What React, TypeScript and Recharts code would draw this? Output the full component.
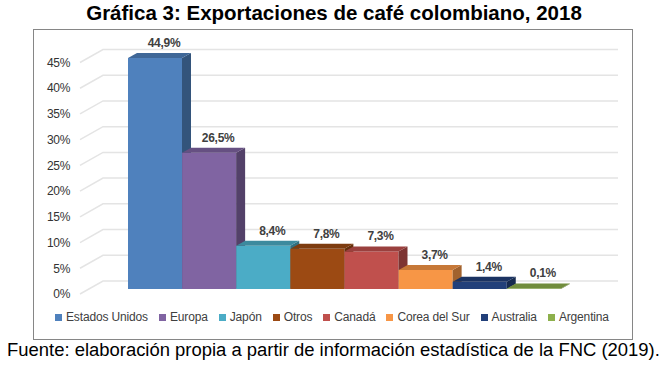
import React from 'react';
import {
  BarChart,
  Bar,
  XAxis,
  YAxis,
  CartesianGrid,
  Legend,
  LabelList,
  Cell,
} from 'recharts';

const countries = [
  'Estados Unidos',
  'Europa',
  'Japón',
  'Otros',
  'Canadá',
  'Corea del Sur',
  'Australia',
  'Argentina',
];
const shares = [44.9, 26.5, 8.4, 7.8, 7.3, 3.7, 1.4, 0.1];
const yTicks = [0, 5, 10, 15, 20, 25, 30, 35, 40, 45];

const colors = [
  '#4F81BD',
  '#8064A2',
  '#4BACC6',
  '#9C4A13',
  '#C0504D',
  '#F79646',
  '#22407A',
  '#8DB04C',
];

const data = countries.map((name, i) => ({ name, value: shares[i], color: colors[i] }));

const FONT = "'Liberation Sans Narrow', 'Arial Narrow', 'Liberation Sans', Arial, sans-serif";
const DEPTH_X = 9;
const DEPTH_Y = 5;

function shade(hex: string, f: number) {
  const n = parseInt(hex.slice(1), 16);
  const r = Math.round(((n >> 16) & 255) * f);
  const g = Math.round(((n >> 8) & 255) * f);
  const b = Math.round((n & 255) * f);
  return `rgb(${r},${g},${b})`;
}

const fmt = (v: number) => v.toFixed(1).replace('.', ',') + '%';

// barra con cara frontal, superior y lateral (efecto 3D de Excel)
function Bar3D(props: any) {
  const { x, y, width, height, fill } = props;
  const right = x + width;
  const bottom = y + height;
  const top = `${x},${y} ${x + DEPTH_X},${y - DEPTH_Y} ${right + DEPTH_X},${y - DEPTH_Y} ${right},${y}`;
  const side = `${right},${y} ${right + DEPTH_X},${y - DEPTH_Y} ${right + DEPTH_X},${bottom - DEPTH_Y} ${right},${bottom}`;
  return (
    <g>
      <rect x={x} y={y} width={width} height={height} fill={fill} />
      <polygon points={side} fill={shade(fill, 0.65)} />
      <polygon points={top} fill={shade(fill, 0.8)} />
    </g>
  );
}

function GridLine(props: any) {
  const { x1, x2, y1 } = props;
  const pts = `${x1 - 48},${y1 + 5} ${x1 - 25},${y1 - 8} ${x2 + 57},${y1 - 8}`;
  return <polyline key={props.key} points={pts} fill="none" stroke="#E4E4E4" strokeWidth={1.5} />;
}

function YTick(props: any) {
  const { x, y, payload } = props;
  return (
    <text
      x={x - 50}
      y={y + 5}
      dy="0.355em"
      textAnchor="end"
      fontFamily={FONT}
      fontSize={12}
      letterSpacing={-0.3}
      fill="#333"
    >
      {payload.value}%
    </text>
  );
}

function ValueLabel(props: any) {
  const { x, y, width, value } = props;
  return (
    <text
      x={x + width / 2 + 9}
      y={y - 11}
      textAnchor="middle"
      fontFamily={FONT}
      fontSize={12}
      fontWeight="bold"
      letterSpacing={-0.3}
      fill="#404040"
    >
      {fmt(value)}
    </text>
  );
}

function LegendBox() {
  return (
    <div
      style={{
        display: 'flex',
        alignItems: 'center',
        paddingLeft: 55,
        fontFamily: FONT,
        fontSize: 12,
        letterSpacing: -0.15,
        color: '#404040',
        whiteSpace: 'nowrap',
      }}
    >
      {data.map((d) => (
        <span key={d.name} style={{ display: 'flex', alignItems: 'center', marginRight: 11 }}>
          <span
            style={{ width: 7, height: 7, background: d.color, marginRight: 4, display: 'inline-block' }}
          />
          {d.name}
        </span>
      ))}
    </div>
  );
}

export default function App() {
  return (
    <div
      style={{
        position: 'absolute',
        left: 0,
        top: 0,
        width: 668,
        height: 367,
        background: '#fff',
        fontFamily: "'Liberation Sans', Arial, sans-serif",
      }}
    >
      <div
        style={{
          position: 'absolute',
          left: 0,
          top: 3,
          width: 668,
          textAlign: 'center',
          fontSize: 20.5,
          lineHeight: '20px',
          fontWeight: 'bold',
          color: '#000',
        }}
      >
        Gráfica 3: Exportaciones de café colombiano, 2018
      </div>
      <div
        style={{
          position: 'absolute',
          left: 33,
          top: 29,
          width: 600,
          height: 311,
          boxSizing: 'border-box',
          border: '1px solid #868686',
        }}
      />
      <div style={{ position: 'absolute', left: 0, top: 0 }}>
        <BarChart
          width={668}
          height={367}
          data={data}
          barCategoryGap={0}
          margin={{ top: 57.5, right: 107, bottom: 78, left: 68 }}
        >
          <CartesianGrid vertical={false} horizontal={GridLine} />
          <XAxis dataKey="name" hide />
          <YAxis
            width={60}
            domain={[0, 45]}
            ticks={yTicks}
            axisLine={false}
            tickLine={false}
            tick={YTick}
            interval={0}
          />
          <Legend
            layout="horizontal"
            verticalAlign="middle"
            align="center"
            wrapperStyle={{ top: 310, left: 0, width: 668 }}
            content={LegendBox}
          />
          <Bar dataKey="value" shape={Bar3D} isAnimationActive={false}>
            {data.map((d) => (
              <Cell key={d.name} fill={d.color} />
            ))}
            <LabelList dataKey="value" content={ValueLabel} />
          </Bar>
        </BarChart>
      </div>
      <div
        style={{
          position: 'absolute',
          left: 7,
          top: 340,
          fontSize: 18.45,
          lineHeight: '20px',
          color: '#000',
          whiteSpace: 'nowrap',
        }}
      >
        Fuente: elaboración propia a partir de información estadística de la FNC (2019).
      </div>
    </div>
  );
}
